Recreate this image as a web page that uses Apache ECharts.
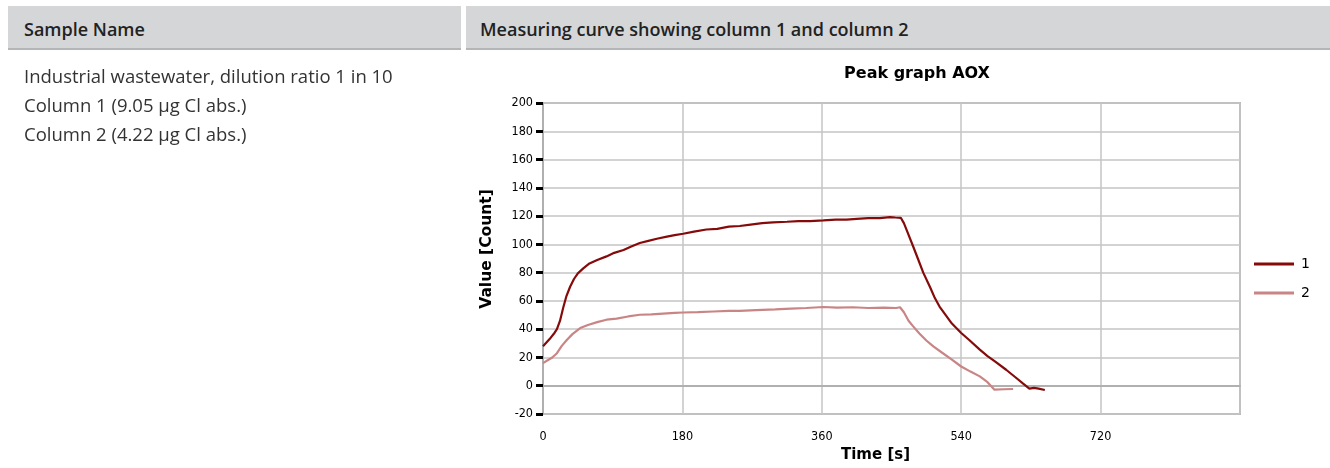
<!DOCTYPE html>
<html>
<head>
<meta charset="utf-8">
<script src="https://cdn.jsdelivr.net/npm/echarts@6/dist/echarts.min.js"></script>
<style>
  html, body { margin: 0; padding: 0; background: #fff; width: 1330px; height: 468px; overflow: hidden; }
  .hdr { position: absolute; top: 6px; height: 44px; background: #d5d6d8; border-bottom: 2px solid #b4b5b7;
         font-family: "Open Sans", "Noto Sans", sans-serif; font-weight: 600; font-size: 18px; color: #222;
         line-height: 46px; }
  #h1 { left: 8px; width: 453px; padding-left: 16px; box-sizing: border-box; }
  #h2 { left: 466px; width: 864px; padding-left: 14px; box-sizing: border-box; }
  #desc { position: absolute; left: 24px; top: 61px; font-family: "Open Sans", "Noto Sans", sans-serif;
          font-size: 18.5px; color: #333; line-height: 29px; }
  #chart { position: absolute; left: 0; top: 0; width: 1330px; height: 468px; }
</style>
</head>
<body>
<div id="chart"></div>
<div class="hdr" id="h1">Sample Name</div>
<div class="hdr" id="h2">Measuring curve showing column 1 and column 2</div>
<div id="desc">Industrial wastewater, dilution ratio 1 in 10<br>Column 1 (9.05 µg Cl abs.)<br>Column 2 (4.22 µg Cl abs.)</div>
<script>
const chartTitle = "Peak graph AOX";
const xName = "Time [s]";
const yName = "Value [Count]";
const seriesNames = ["1", "2"];

// [time s, value]
const column1 = [
  [0,28],[5,31],[10,34],[15,37.5],[18,40],[22,46],[26,55],[30,63],[35,70],[40,75.5],[45,79.5],[52,83],
  [60,86.5],[70,89],[82,91.5],[92,94],[104,96],[114,98.5],[125,101],[136,102.5],[147,104],[160,105.5],
  [170,106.5],[181,107.5],[195,109],[211,110.5],[225,111],[240,112.5],[254,113],[268,114],[283,115],
  [297,115.5],[315,116],[330,116.5],[345,116.5],[362,117],[378,117.5],[392,117.5],[405,118],[420,118.5],
  [435,118.5],[448,119.3],[455,119],[462,118.8],[466,115],[470,109.5],[478,98.5],[484,90],[491,80],
  [500,69.5],[506,62],[512,56],[520,50],[528,44],[540,37.3],[550,32.5],[564,25.5],[574,21],[584,17],
  [598,11.3],[610,6],[620,1.5],[628,-2],[634,-1.5],[640,-2],[648,-3]
];
const column2 = [
  [0,16],[6,18],[12,20],[18,23],[24,28],[31,32.5],[38,36.5],[48,40.8],[58,43],[70,45],[82,46.7],
  [95,47.5],[110,49],[125,50.2],[140,50.5],[155,51],[170,51.5],[181,51.8],[200,52],[220,52.5],
  [240,53],[254,53],[275,53.5],[300,54],[320,54.5],[340,55],[362,55.7],[380,55.2],[400,55.5],
  [420,55],[440,55.3],[456,55],[461,55.5],[466,52],[472,46],[478,42],[486,37],[495,32],[504,27.8],
  [515,23.5],[528,18.5],[540,13.6],[552,10],[564,6.6],[574,2.5],[583,-2.8],[595,-2.5],[607,-2.3]
];

const chart = echarts.init(document.getElementById('chart'));
const tickFont = { fontFamily: '"DejaVu Sans Condensed", "DejaVu Sans", sans-serif', fontSize: 12.5, color: '#000' };
const nameFont = { fontFamily: '"DejaVu Sans", sans-serif', fontWeight: 'bold', fontSize: 15, color: '#000' };
chart.setOption({
  animation: false,
  title: {
    text: chartTitle, left: 912, top: 61, textAlign: 'center',
    textStyle: { fontFamily: '"DejaVu Sans", sans-serif', fontWeight: 'bold', fontSize: 16, color: '#000' }
  },
  legend: {
    orient: 'vertical', left: 1249, top: 252, icon: 'rect', itemWidth: 40, itemHeight: 3, itemGap: 15,
    data: seriesNames,
    textStyle: { fontFamily: '"DejaVu Sans", sans-serif', fontSize: 14, color: '#000', padding: [0, 0, 0, 2] }
  },
  grid: { left: 543, right: 90, top: 103, bottom: 54, containLabel: false,
          show: true, borderColor: '#b8b8b8', borderWidth: 2 },
  xAxis: {
    type: 'value', min: 0, max: 900, interval: 180,
    name: xName, nameLocation: 'middle', nameGap: 31,
    nameTextStyle: { ...nameFont, padding: [0, 32, 0, 0] },
    axisLine: { show: true, lineStyle: { color: '#b0b0b0', width: 2 } },
    axisTick: { show: false },
    axisLabel: { ...tickFont, margin: 16, showMaxLabel: false },
    splitLine: { show: true, lineStyle: { color: '#c4c4c4', width: 1.5 } }
  },
  yAxis: {
    type: 'value', min: -20, max: 200, interval: 20,
    axisLine: { show: true, lineStyle: { color: '#b0b0b0', width: 2 } },
    axisTick: { show: true, length: 7, lineStyle: { color: '#000', width: 3 } },
    axisLabel: { ...tickFont, margin: 10 },
    splitLine: { show: true, lineStyle: { color: '#c4c4c4', width: 1.5 } }
  },
  graphic: [{
    type: 'text', x: 487, y: 249, rotation: Math.PI / 2,
    style: { text: yName, fill: '#000', align: 'center', verticalAlign: 'middle',
             font: 'bold 15.5px "DejaVu Sans", sans-serif' }
  }],
  series: [
    { name: seriesNames[0], type: 'line', data: column1, showSymbol: false, symbol: 'none',
      lineStyle: { color: '#850b0b', width: 2.2 }, itemStyle: { color: '#850b0b' }, z: 3 },
    { name: seriesNames[1], type: 'line', data: column2, showSymbol: false, symbol: 'none',
      lineStyle: { color: '#c98585', width: 2.2 }, itemStyle: { color: '#c98585' }, z: 2 }
  ]
});
</script>
</body>
</html>
